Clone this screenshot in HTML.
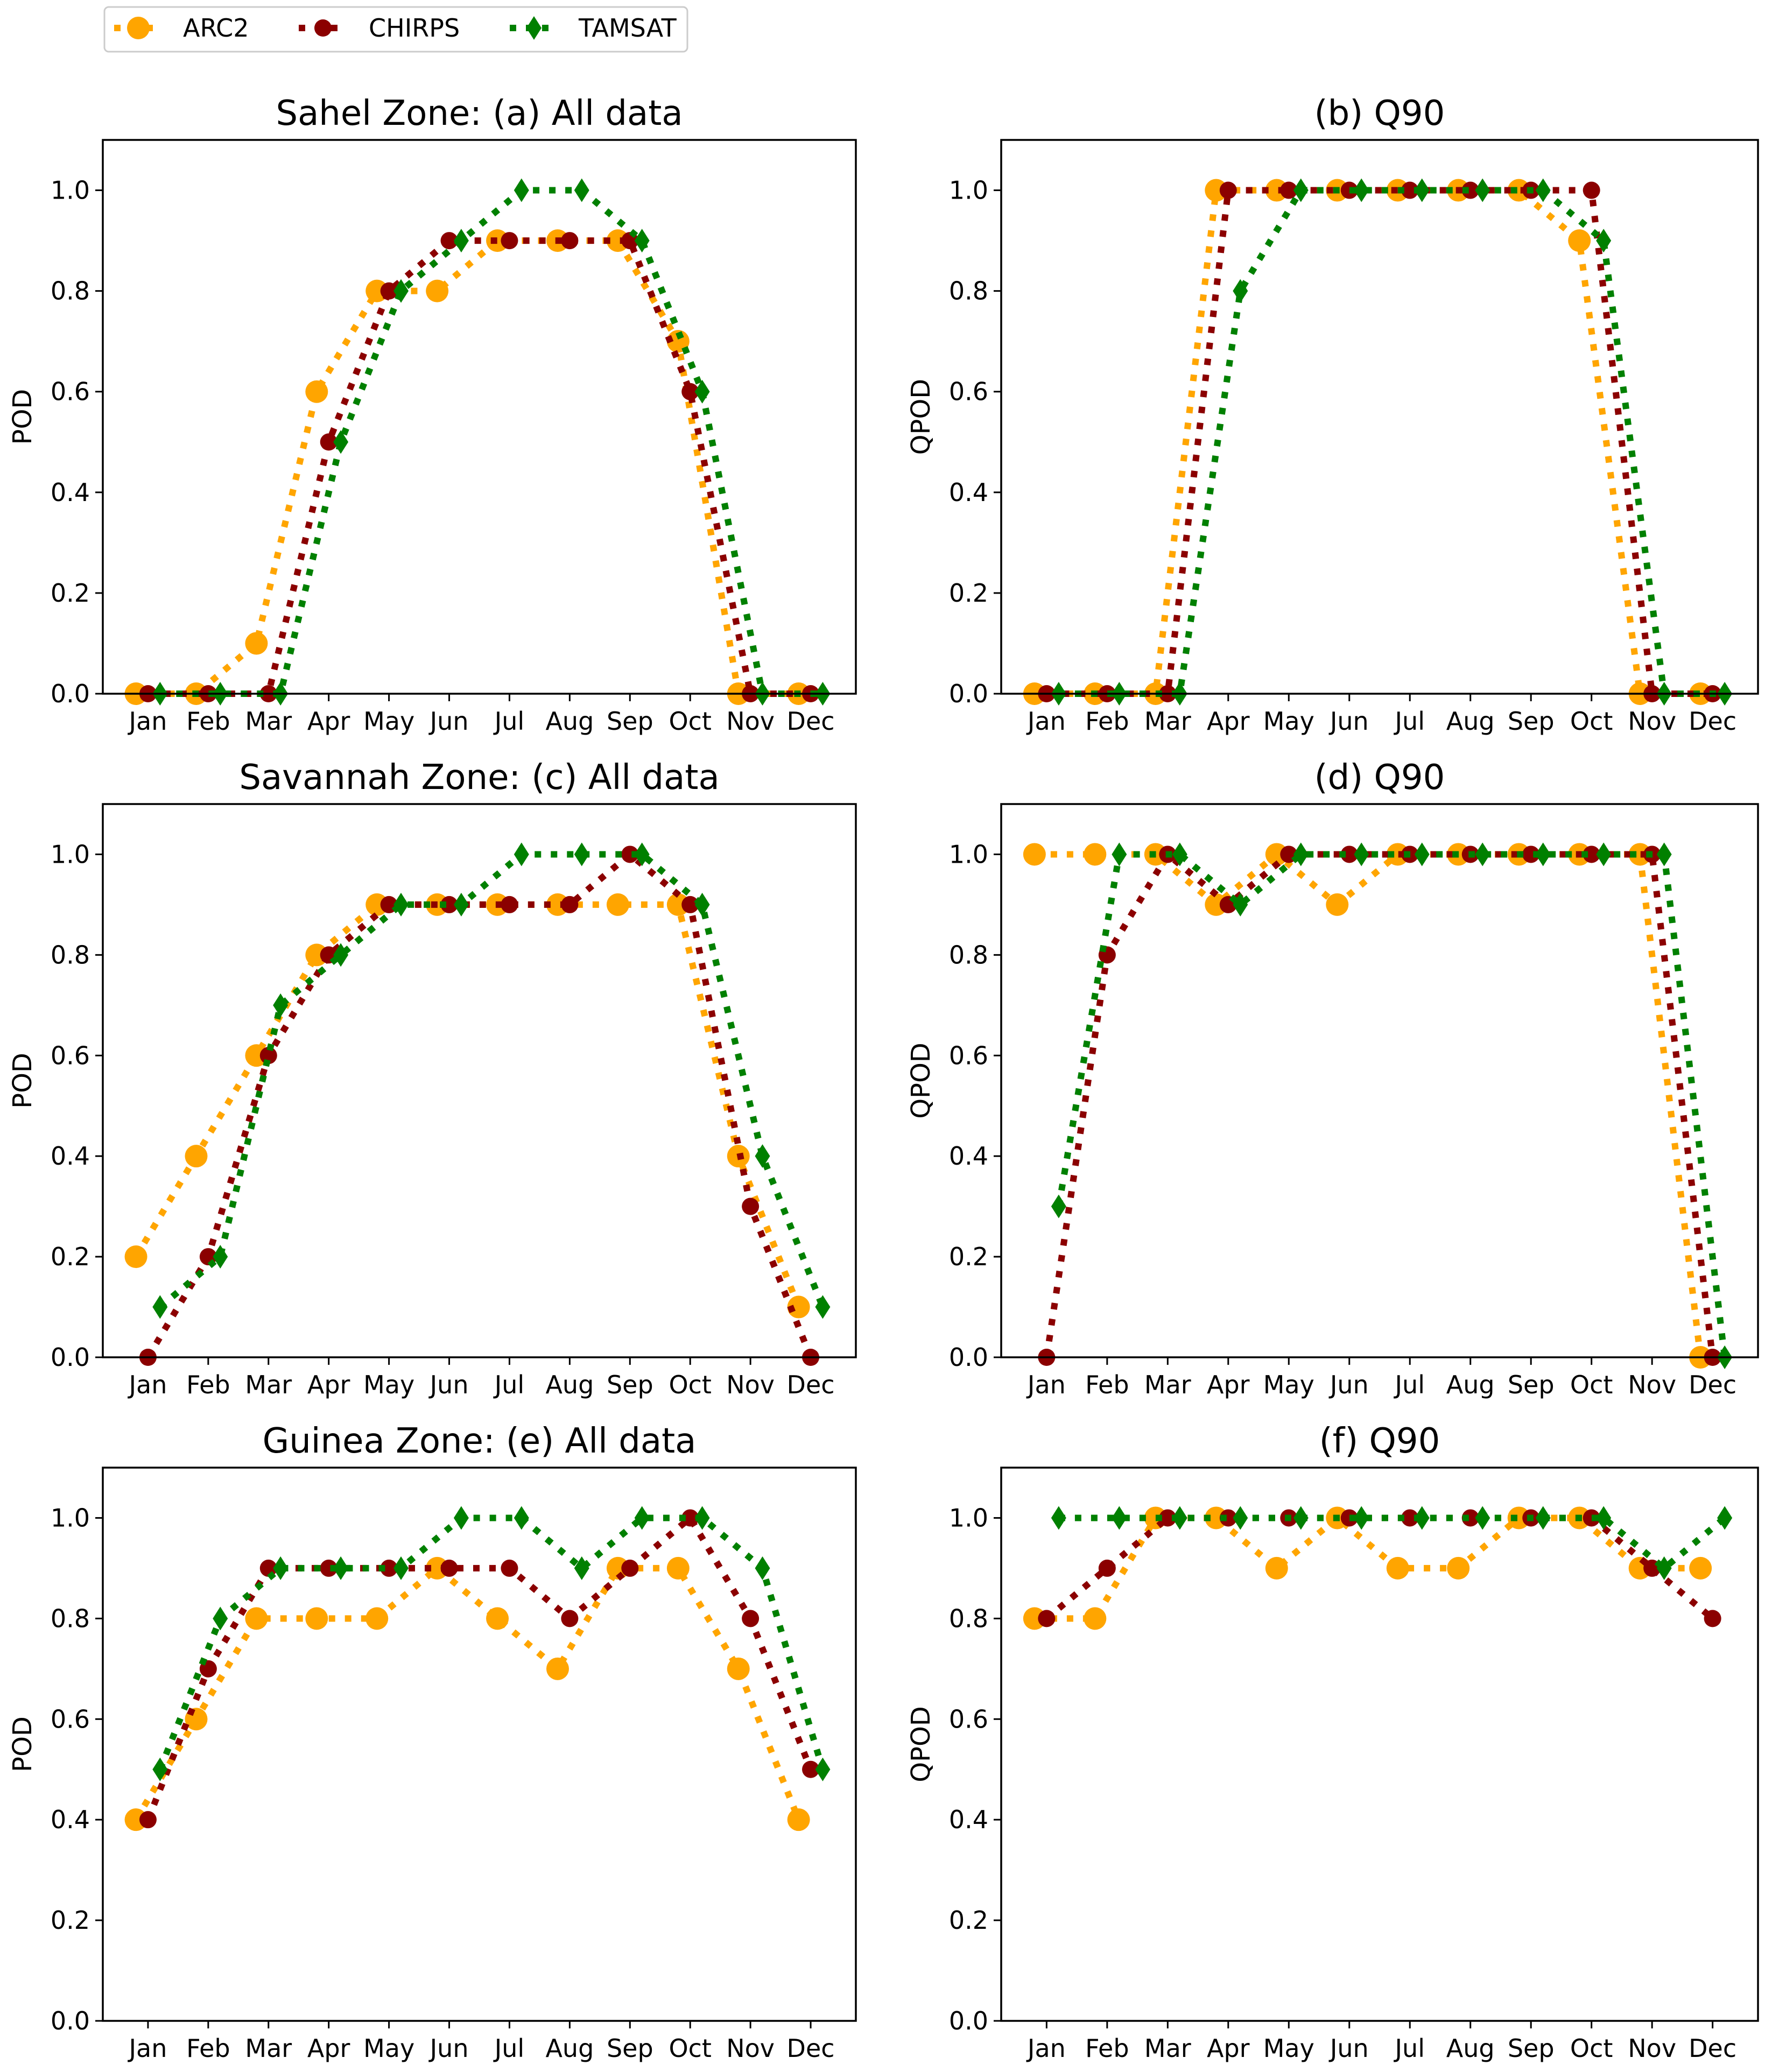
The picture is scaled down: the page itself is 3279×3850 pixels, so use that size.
<!DOCTYPE html>
<html><head><meta charset="utf-8"><style>
html,body{margin:0;padding:0;background:#fff;}
svg{display:block;font-family:"DejaVu Sans","Liberation Sans",sans-serif;}
</style></head><body>
<svg id="fig" width="3279" height="3850" viewBox="0 0 3279 3850" xmlns="http://www.w3.org/2000/svg">
<rect width="3279" height="3850" fill="#fff"/>
<g>
<rect x="194" y="13" width="1083" height="83" rx="8" fill="#fff" stroke="#ccc" stroke-width="3"/>
<g>
<line x1="212" y1="52" x2="302" y2="52" stroke="#FFA500" stroke-width="12" stroke-dasharray="12 18"/>
<circle cx="257" cy="52" r="21" fill="#FFA500"/>
<text x="340" y="68" font-size="46" fill="#000">ARC2</text></g>
<g>
<line x1="555" y1="52" x2="645" y2="52" stroke="#8B0000" stroke-width="12" stroke-dasharray="12 18"/>
<circle cx="600" cy="52" r="16" fill="#8B0000"/>
<text x="685" y="68" font-size="46" fill="#000">CHIRPS</text></g>
<g>
<line x1="947" y1="52" x2="1037" y2="52" stroke="#008000" stroke-width="12" stroke-dasharray="12 18"/>
<polygon points="992,30 1006,52 992,74 978,52" fill="#008000"/>
<text x="1075" y="68" font-size="46" fill="#000">TAMSAT</text></g>
</g>
<g id="panels"></g>
</svg>
<script>
const months = ["Jan","Feb","Mar","Apr","May","Jun","Jul","Aug","Sep","Oct","Nov","Dec"];
const yTicks = [0.0,0.2,0.4,0.6,0.8,1.0];
const titles = ["Sahel Zone: (a) All data","(b) Q90","Savannah Zone: (c) All data","(d) Q90","Guinea Zone: (e) All data","(f) Q90"];
const yLabels = ["POD","QPOD","POD","QPOD","POD","QPOD"];
const arc2A = [0,0,0.1,0.6,0.8,0.8,0.9,0.9,0.9,0.7,0,0];
const chirpsA = [0,0,0,0.5,0.8,0.9,0.9,0.9,0.9,0.6,0,0];
const tamsatA = [0,0,0,0.5,0.8,0.9,1,1,0.9,0.6,0,0];
const arc2B = [0,0,0,1,1,1,1,1,1,0.9,0,0];
const chirpsB = [0,0,0,1,1,1,1,1,1,1,0,0];
const tamsatB = [0,0,0,0.8,1,1,1,1,1,0.9,0,0];
const arc2C = [0.2,0.4,0.6,0.8,0.9,0.9,0.9,0.9,0.9,0.9,0.4,0.1];
const chirpsC = [0,0.2,0.6,0.8,0.9,0.9,0.9,0.9,1,0.9,0.3,0];
const tamsatC = [0.1,0.2,0.7,0.8,0.9,0.9,1,1,1,0.9,0.4,0.1];
const arc2D = [1,1,1,0.9,1,0.9,1,1,1,1,1,0];
const chirpsD = [0,0.8,1,0.9,1,1,1,1,1,1,1,0];
const tamsatD = [0.3,1,1,0.9,1,1,1,1,1,1,1,0];
const arc2E = [0.4,0.6,0.8,0.8,0.8,0.9,0.8,0.7,0.9,0.9,0.7,0.4];
const chirpsE = [0.4,0.7,0.9,0.9,0.9,0.9,0.9,0.8,0.9,1,0.8,0.5];
const tamsatE = [0.5,0.8,0.9,0.9,0.9,1,1,0.9,1,1,0.9,0.5];
const arc2F = [0.8,0.8,1,1,0.9,1,0.9,0.9,1,1,0.9,0.9];
const chirpsF = [0.8,0.9,1,1,1,1,1,1,1,1,0.9,0.8];
const tamsatF = [1,1,1,1,1,1,1,1,1,1,0.9,1];
const panelData = [[arc2A,chirpsA,tamsatA],[arc2B,chirpsB,tamsatB],[arc2C,chirpsC,tamsatC],[arc2D,chirpsD,tamsatD],[arc2E,chirpsE,tamsatE],[arc2F,chirpsF,tamsatF]];
const seriesNames = ["arc2","chirps","tamsat"];
const colors = ["#FFA500","#8B0000","#008000"];
const offsets = [-0.2,0,0.2];
const cols = [[191,1590],[1860,3266]];
const rows = [[260,1289],[1494,2522],[2727,3755]];
const NS = "http://www.w3.org/2000/svg";
const root = document.getElementById("panels");
function mk(tag, attrs, parent){const e=document.createElementNS(NS,tag);for(const k in attrs)e.setAttribute(k,attrs[k]);parent.appendChild(e);return e;}
panelData.forEach((series, p) => {
  const [L,R] = cols[p%2]; const [T,B] = rows[Math.floor(p/2)];
  const sx = v => L + (v - 0.25) / 12.5 * (R - L);
  const sy = v => B - v / 1.1 * (B - T);
  const g = mk("g", {}, root);
  
  
  const t = mk("text", {x:(L+R)/2, y:T-28, "font-size":64, "text-anchor":"middle", fill:"#000"}, g);
  t.textContent = titles[p];
  
  
  yTicks.forEach(v => {
    const y = sy(v);
    mk("line", {x1:L-14, x2:L, y1:y, y2:y, stroke:"#000", "stroke-width":3}, g);
    const tl = mk("text", {x:L-24, y:y+16, "font-size":46, "text-anchor":"end", fill:"#000"}, g);
    tl.textContent = v.toFixed(1);
    
    
  });
  months.forEach((m,i) => {
    const x = sx(i+1);
    mk("line", {x1:x, x2:x, y1:B, y2:B+14, stroke:"#000", "stroke-width":3}, g);
    const tl = mk("text", {x:x, y:B+67, "font-size":46, "text-anchor":"middle", fill:"#000"}, g);
    tl.textContent = m;
    
    
  });
  const yl = mk("text", {x:0, y:0, "font-size":48, "text-anchor":"middle", fill:"#000", transform:`translate(${L-133},${(T+B)/2}) rotate(-90)`}, g);
  yl.textContent = yLabels[p];
  
  
  series.forEach((vals, s) => {
    const sg = mk("g", {}, g);
    
    
    const pts = vals.map((v,i) => sx(i+1+offsets[s]).toFixed(1)+","+sy(v).toFixed(1)).join(" ");
    mk("polyline", {points:pts, fill:"none", stroke:colors[s], "stroke-width":12, "stroke-dasharray":"12 18"}, sg);
    vals.forEach((v,i) => {
      const x = sx(i+1+offsets[s]), y = sy(v);
      let m;
      if (s===0) m = mk("circle", {cx:x, cy:y, r:21, fill:colors[s]}, sg);
      else if (s===1) m = mk("circle", {cx:x, cy:y, r:16, fill:colors[s]}, sg);
      else m = mk("polygon", {points:`${x},${y-22} ${x+14},${y} ${x},${y+22} ${x-14},${y}`, fill:colors[s]}, sg);
      
      
    });
  });
  mk("rect", {x:L, y:T, width:R-L, height:B-T, fill:"none", stroke:"#000", "stroke-width":3.5}, g);
});
</script>
</body></html>
